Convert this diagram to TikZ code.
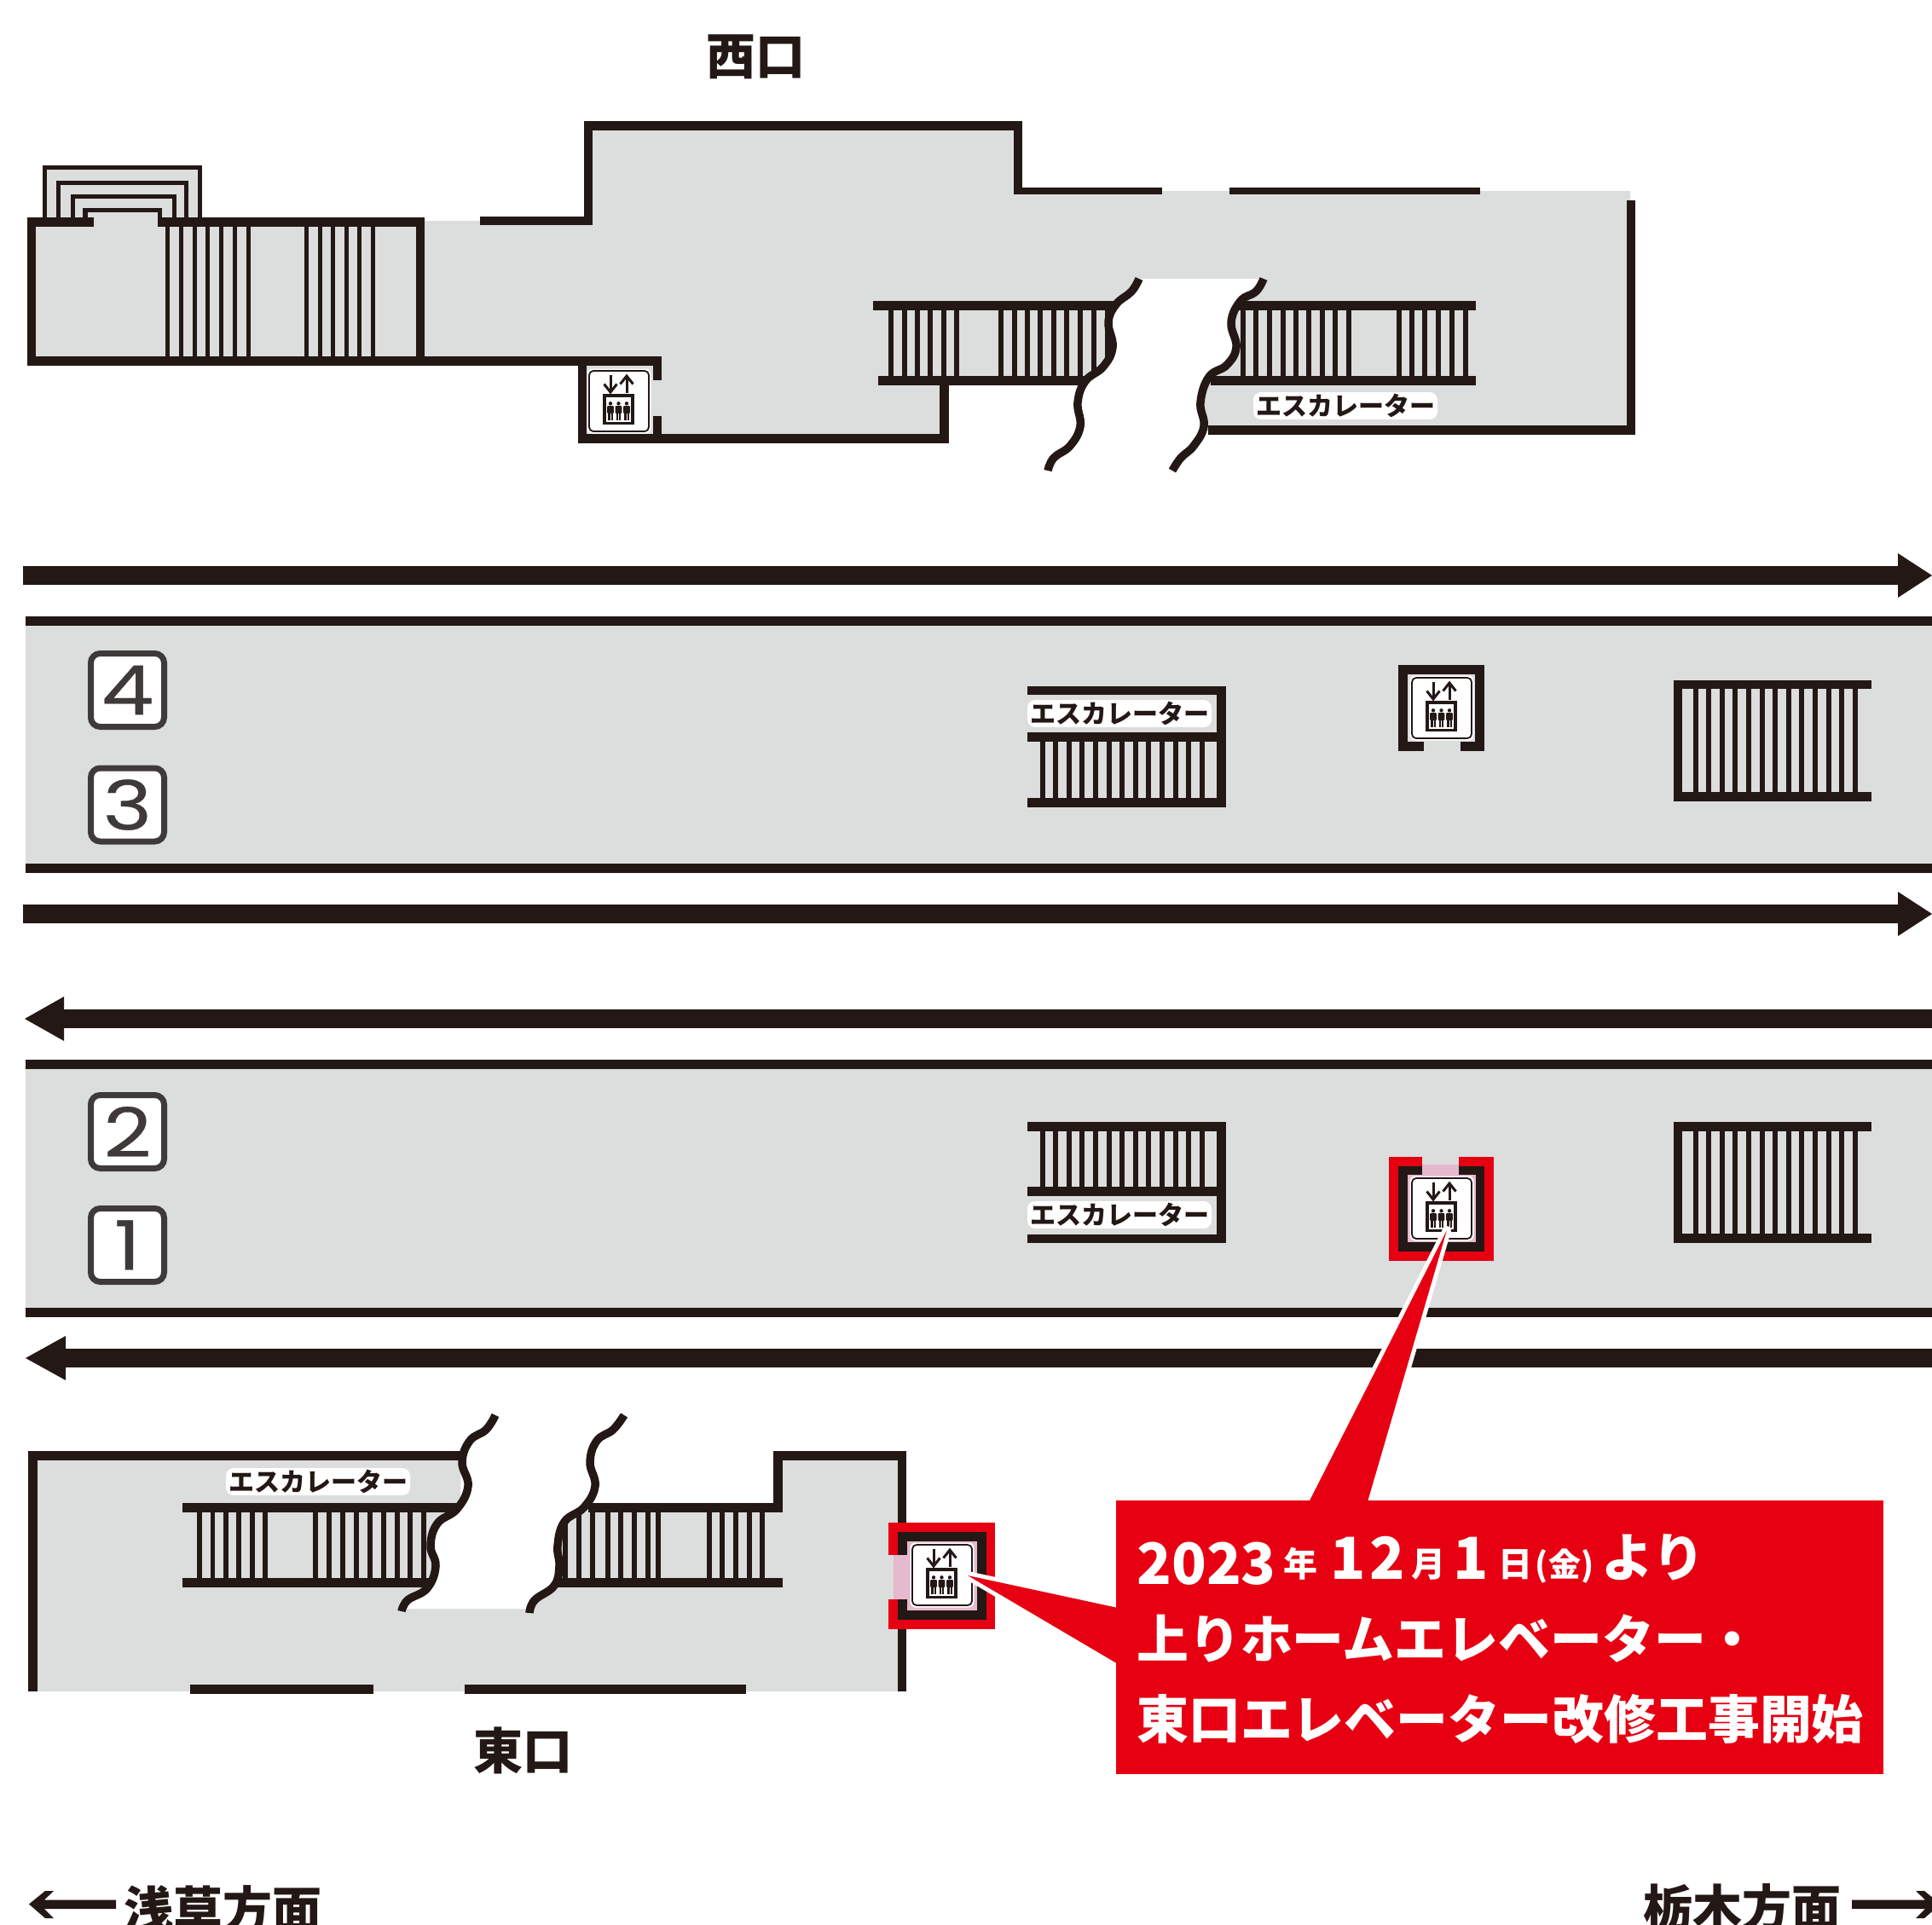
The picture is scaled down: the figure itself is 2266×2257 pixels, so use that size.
\documentclass[tikz,border=0pt]{standalone}
\usepackage{fontspec}
\newfontfamily\jp{Noto Sans CJK JP}
\newfontfamily\pop[FakeStretch=1.22,FakeBold=0.4]{Poppins}
\definecolor{ink}{HTML}{231815}
\definecolor{floorgrey}{HTML}{DCDDDD}
\definecolor{alert}{HTML}{E60012}
\definecolor{softpink}{HTML}{E6B9CE}
\definecolor{badgeink}{HTML}{3E3A39}
\newcommand\bx[4]{\fill[ink] (#1,#2) rectangle (#3,#4);}
\newcommand\fs[1]{\fontsize{#1}{#1}\selectfont}
\newcommand\person[1]{%
  \fill[ink] (#1,38.3) circle (2.2);
  \fill[ink,rounded corners=1] (#1-3.8,41) rectangle (#1+3.8,50);
  \fill[ink] (#1-2.8,49) rectangle (#1-0.5,58);
  \fill[ink] (#1+0.5,49) rectangle (#1+2.8,58);}
\newcommand\elev[2]{%
  \begin{scope}[shift={(#1,#2)}]
    \fill[white,rounded corners=6] (-2.5,-2.5) rectangle (72.5,73.5);
    \draw[ink,line width=1.8,rounded corners=5] (0,0) rectangle (70,71);
    \draw[ink,line width=3] (25,5) -- (25,24);
    \draw[ink,line width=3] (17.5,15.5) -- (25,25) -- (32.5,15.5);
    \draw[ink,line width=3] (44,26) -- (44,6);
    \draw[ink,line width=3] (36.5,15.5) -- (44,6) -- (51.5,15.5);
    \fill[ink] (16,27) rectangle (53,63);
    \fill[white] (20,31) rectangle (49,59.5);
    \person{25}\person{34.5}\person{44}
  \end{scope}}
\tikzset{
  esclabel/.style={font=\jp\bfseries\fs{30},text=ink,fill=white,rounded corners=9,inner xsep=3,inner ysep=2},
  gate/.style={font=\jp\bfseries\fs{58},text=ink,inner sep=0},
  notice/.style={font=\jp\bfseries,text=white,inner sep=0,anchor=base},
  badge/.style={draw=badgeink,line width=7,fill=white,rounded corners=11,minimum width=86,minimum height=86,inner sep=0,text=badgeink,font=\pop\fs{80}},
  wavy/.style={ink,line width=9.5},
  halo/.style={draw=white,line width=10,line join=round}
}
\begin{document}
\begin{tikzpicture}[x=1pt,y=-1pt]
\useasboundingbox (0,0) rectangle (2266,2257);
\fill[white] (0,0) rectangle (2266,2257);
% ---------- west concourse
\fill[floorgrey] (32,255) rectangle (498,429);
\fill[floorgrey] (498,259) -- (690,259) -- (690,148) -- (1194,148) -- (1194,224) -- (1912,224) -- (1912,505) -- (1108,505) -- (1108,514) -- (683,514) -- (683,423) -- (498,423) -- cycle;
\fill[white] (1113,452) rectangle (1300,530);
% little concentric stairs
\bx{49.5}{194}{237}{255}
\fill[floorgrey] (54.5,199) rectangle (232,255);
\bx{66}{212}{221}{255}
\fill[floorgrey] (71,217) rectangle (216,255);
\bx{83}{228}{207}{255}
\fill[floorgrey] (88,233) rectangle (202,255);
\bx{97}{244}{190}{266}
\fill[floorgrey] (103,249) rectangle (185,266);
% building walls
\bx{32}{255}{110}{266}
\bx{186}{255}{498}{266}
\bx{32}{255}{42}{429}
\bx{488}{255}{498}{429}
\bx{32}{418}{776}{429}
\foreach \i in {0,...,6} {\fill[ink] ({194+15.8*\i},266) rectangle ({199+15.8*\i},418);}
\foreach \i in {0,...,5} {\fill[ink] ({357+15.6*\i},266) rectangle ({362+15.6*\i},418);}
% corridor walls
\bx{563}{254}{695}{264}
\bx{685}{142}{695}{264}
\bx{685}{142}{1199}{153}
\bx{1189}{142}{1199}{228}
\bx{1189}{220}{1363}{228}
\bx{1442}{220}{1736}{228}
\bx{1908}{235}{1918}{510}
\bx{1417}{499}{1918}{510}
% west elevator
\bx{678}{429}{688}{520}
\bx{678}{509}{1113}{520}
\bx{766}{418}{776}{446}
\bx{766}{488}{776}{509}
\bx{1102}{452}{1113}{520}
\elev{691}{435}
% west escalators
\bx{1024}{353}{1310}{364}
\bx{1030}{441}{1280}{452}
\bx{1450}{353}{1731}{364}
\bx{1420}{441}{1731}{452}
\foreach \p in {1042,1058,1073,1088,1104,1119,1171,1187,1202,1217,1233,1248,1264,1280,1296,1455,1470,1486,1502,1517,1532,1548,1563,1579,1638,1653,1668,1684,1700,1716} {\fill[ink] (\p,364) rectangle (\p+5.5,441);}
\fill[white] plot[smooth,tension=.7] coordinates {(1336,327) (1327,342) (1309,357) (1300,378) (1305,407) (1294,430) (1273,447) (1264,472) (1267,500) (1255,523) (1236,537) (1229,552)} -- plot[smooth,tension=.7] coordinates {(1375,552) (1385,537) (1400,523) (1412,500) (1408,472) (1418,442) (1439,428) (1450,407) (1444,378) (1455,353) (1473,342) (1482,327)} -- cycle;
\draw[wavy] plot[smooth,tension=.7] coordinates {(1336,327) (1327,342) (1309,357) (1300,378) (1305,407) (1294,430) (1273,447) (1264,472) (1267,500) (1255,523) (1236,537) (1229,552)};
\draw[wavy] plot[smooth,tension=.7] coordinates {(1482,327) (1473,342) (1455,353) (1444,378) (1450,407) (1439,428) (1418,442) (1408,472) (1412,500) (1400,523) (1385,537) (1375,552)};
\node[esclabel] (eslabelW) at (1578,476) {エスカレーター};
\node[gate] (west) at (886,67) {西口};
% ---------- tracks
\fill[ink] (27,664) rectangle (2226,686);
\fill[ink] (2226,649) -- (2266,675) -- (2226,701) -- cycle;
\fill[ink] (27,1061) rectangle (2226,1083);
\fill[ink] (2226,1046) -- (2266,1072) -- (2226,1098) -- cycle;
\fill[ink] (75,1184) rectangle (2266,1206);
\fill[ink] (75,1169) -- (29,1195) -- (75,1221) -- cycle;
\fill[ink] (77,1582) rectangle (2266,1604);
\fill[ink] (77,1567) -- (30,1593) -- (77,1619) -- cycle;
% ---------- platform 3/4
\fill[floorgrey] (30,728) rectangle (2266,1018);
\bx{30}{723}{2266}{734}
\bx{30}{1013}{2266}{1024}
\bx{1205}{805}{1437.6}{815}
\bx{1205}{859}{1437.6}{870}
\bx{1205}{936}{1437.6}{947}
\bx{1427}{805}{1437.6}{947}
\foreach \i in {0,...,12} {\fill[ink] ({1219.5+15.6*\i},870) rectangle ({1225.5+15.6*\i},936);}
\node[esclabel] (eslabelA) at (1313,837) {エスカレーター};
\bx{1640}{780}{1741}{791}
\bx{1640}{780}{1651}{881}
\bx{1730}{780}{1741}{881}
\bx{1640}{870}{1670}{881}
\bx{1713}{870}{1741}{881}
\elev{1656}{795}
\bx{1962.5}{798}{2194.5}{808}
\bx{1962.5}{929}{2194.5}{940}
\bx{1962.5}{798}{1973}{940}
\foreach \i in {0,...,12} {\fill[ink] ({1985.5+15.6*\i},808) rectangle ({1991.5+15.6*\i},929);}
\node[badge] (b4) at (149.5,809.5) {4};
\node[badge] (b3) at (149.5,944) {3};
% ---------- platform 1/2
\fill[floorgrey] (30,1248) rectangle (2266,1540);
\bx{30}{1243}{2266}{1254}
\bx{30}{1534}{2266}{1545}
\bx{1205}{1316}{1437.6}{1327}
\bx{1205}{1392}{1437.6}{1403}
\bx{1205}{1448}{1437.6}{1458}
\bx{1427}{1316}{1437.6}{1458}
\foreach \i in {0,...,12} {\fill[ink] ({1219.5+15.6*\i},1327) rectangle ({1225.5+15.6*\i},1392);}
\node[esclabel] (eslabelB) at (1313,1425) {エスカレーター};
\bx{1962.5}{1316}{2194.5}{1327}
\bx{1962.5}{1447}{2194.5}{1458}
\bx{1962.5}{1316}{1973}{1458}
\foreach \i in {0,...,12} {\fill[ink] ({1985.5+15.6*\i},1327) rectangle ({1991.5+15.6*\i},1447);}
\node[badge] (b2) at (149.5,1327.5) {2};
\node[badge] (b1) at (149.5,1460.5) {1};
% red elevator on platform
\fill[alert] (1629,1357) rectangle (1752,1479);
\fill[floorgrey] (1668,1357) rectangle (1711,1366);
\fill[ink] (1640,1368) rectangle (1741,1468);
\fill[softpink] (1651,1378) rectangle (1731,1457);
\fill[softpink] (1668,1366) rectangle (1711,1378);
\elev{1656}{1382}
% ---------- east concourse
\fill[floorgrey] (38,1707) -- (540,1707) -- (540,1768) -- (912,1768) -- (912,1707) -- (1058,1707) -- (1058,1984) -- (38,1984) -- cycle;
\fill[white] (560,1660) rectangle (907,1763);
\bx{33}{1702}{540}{1713}
\bx{33}{1702}{43.6}{1984}
\bx{907}{1702}{1063}{1713}
\bx{907}{1702}{918}{1774}
\bx{1053}{1702}{1063}{1984}
\bx{214}{1763}{540}{1774}
\bx{690}{1763}{918}{1774}
\bx{214}{1851}{510}{1862}
\bx{650}{1851}{918}{1862}
\foreach \p in {231,246.5,262,277,293,308,367,383,399,415,431,447,463,478,494,660,676,692,710,725,741,757,769,829,844,860,876,891} {\fill[ink] (\p,1774) rectangle (\p+5.5,1851);}
\bx{223}{1976}{438}{1987}
\bx{545}{1976}{875}{1987}
\fill[white] plot[smooth,tension=.7] coordinates {(581,1660) (570,1677) (551,1690) (542,1715) (549,1743) (536,1770) (513,1787) (505,1813) (511,1837) (501,1863) (478,1877) (471,1887)} -- plot[smooth,tension=.7] coordinates {(621,1887) (627,1877) (650,1860) (656,1837) (654,1813) (662,1785) (685,1768) (698,1743) (692,1715) (700,1690) (719,1677) (732,1660)} -- cycle;
\draw[wavy] plot[smooth,tension=.7] coordinates {(581,1660) (570,1677) (551,1690) (542,1715) (549,1743) (536,1770) (513,1787) (505,1813) (511,1837) (501,1863) (478,1877) (471,1890)};
\draw[wavy] plot[smooth,tension=.7] coordinates {(732,1660) (719,1677) (700,1690) (692,1715) (698,1743) (685,1768) (662,1785) (654,1813) (656,1837) (650,1860) (627,1877) (621,1892)};
\node[esclabel] (eslabelE) at (373,1738) {エスカレーター};
\node[gate] (east) at (613,2053) {東口};
% red elevator on east concourse
\fill[alert] (1042,1786) rectangle (1167,1911);
\fill[floorgrey] (1042,1824) rectangle (1048,1876);
\fill[ink] (1053,1797) rectangle (1157,1900);
\fill[softpink] (1063.5,1808) rectangle (1146,1889);
\fill[softpink] (1048,1824) rectangle (1063.5,1876);
\elev{1070}{1812}
% ---------- pointers
\path[halo] (1697,1443) -- (1528.5,1775) -- (1600,1775) -- cycle;
\fill[alert] (1697,1443) -- (1528.5,1775) -- (1600,1775) -- cycle;
\path[halo] (1135,1848) -- (1325,1889) -- (1325,1960) -- cycle;
\fill[alert] (1135,1848) -- (1325,1889) -- (1325,1960) -- cycle;
\fill[alert] (1309,1760) rectangle (2209,2081);
\node[notice,font=\jp\bfseries\fs{67}] (n2023) at (1415,1858) {2023};
\node[notice,font=\jp\bfseries\fs{40}] (nyear) at (1525,1849) {年};
\node[notice,font=\jp\bfseries\fs{68}] (n12) at (1604,1852) {1\hspace{5pt}2};
\node[notice,font=\jp\bfseries\fs{40}] (nmonth) at (1675,1849) {月};
\node[notice,font=\jp\bfseries\fs{68}] (n1) at (1725,1852) {1};
\node[notice,font=\jp\bfseries\fs{40}] (nday) at (1777,1849) {日};
\node[notice,font=\jp\bfseries\fs{38}] (nfri) at (1835,1849) {(金)};
\node[notice,font=\jp\bfseries\fs{61}] (nfrom) at (1939,1849) {より};
\node[notice,anchor=base west,font=\jp\bfseries\fs{60.9}] (line2) at (1333,1945) {上りホームエレベーター・};
\node[notice,anchor=base west,font=\jp\bfseries\fs{60.9}] (line3) at (1333,2039) {東口エレベーター改修工事開始};
% ---------- bottom directions
\fill[ink] (34,2233.5) -- (53,2218) -- (63,2218) -- (52,2228.5) -- (136,2228.5) -- (136,2239) -- (52,2239) -- (63,2250) -- (53,2250) -- cycle;
\node[gate,font=\jp\bfseries\fs{58},anchor=west] (asakusa) at (145,2240) {浅草方面};
\fill[ink] (2276,2233.5) -- (2257,2218) -- (2247,2218) -- (2258,2228.5) -- (2172,2228.5) -- (2172,2239) -- (2258,2239) -- (2247,2250) -- (2257,2250) -- cycle;
\node[gate,font=\jp\bfseries\fs{58},anchor=west] (tochigi) at (1927,2238) {栃木方面};
\end{tikzpicture}
\end{document}
